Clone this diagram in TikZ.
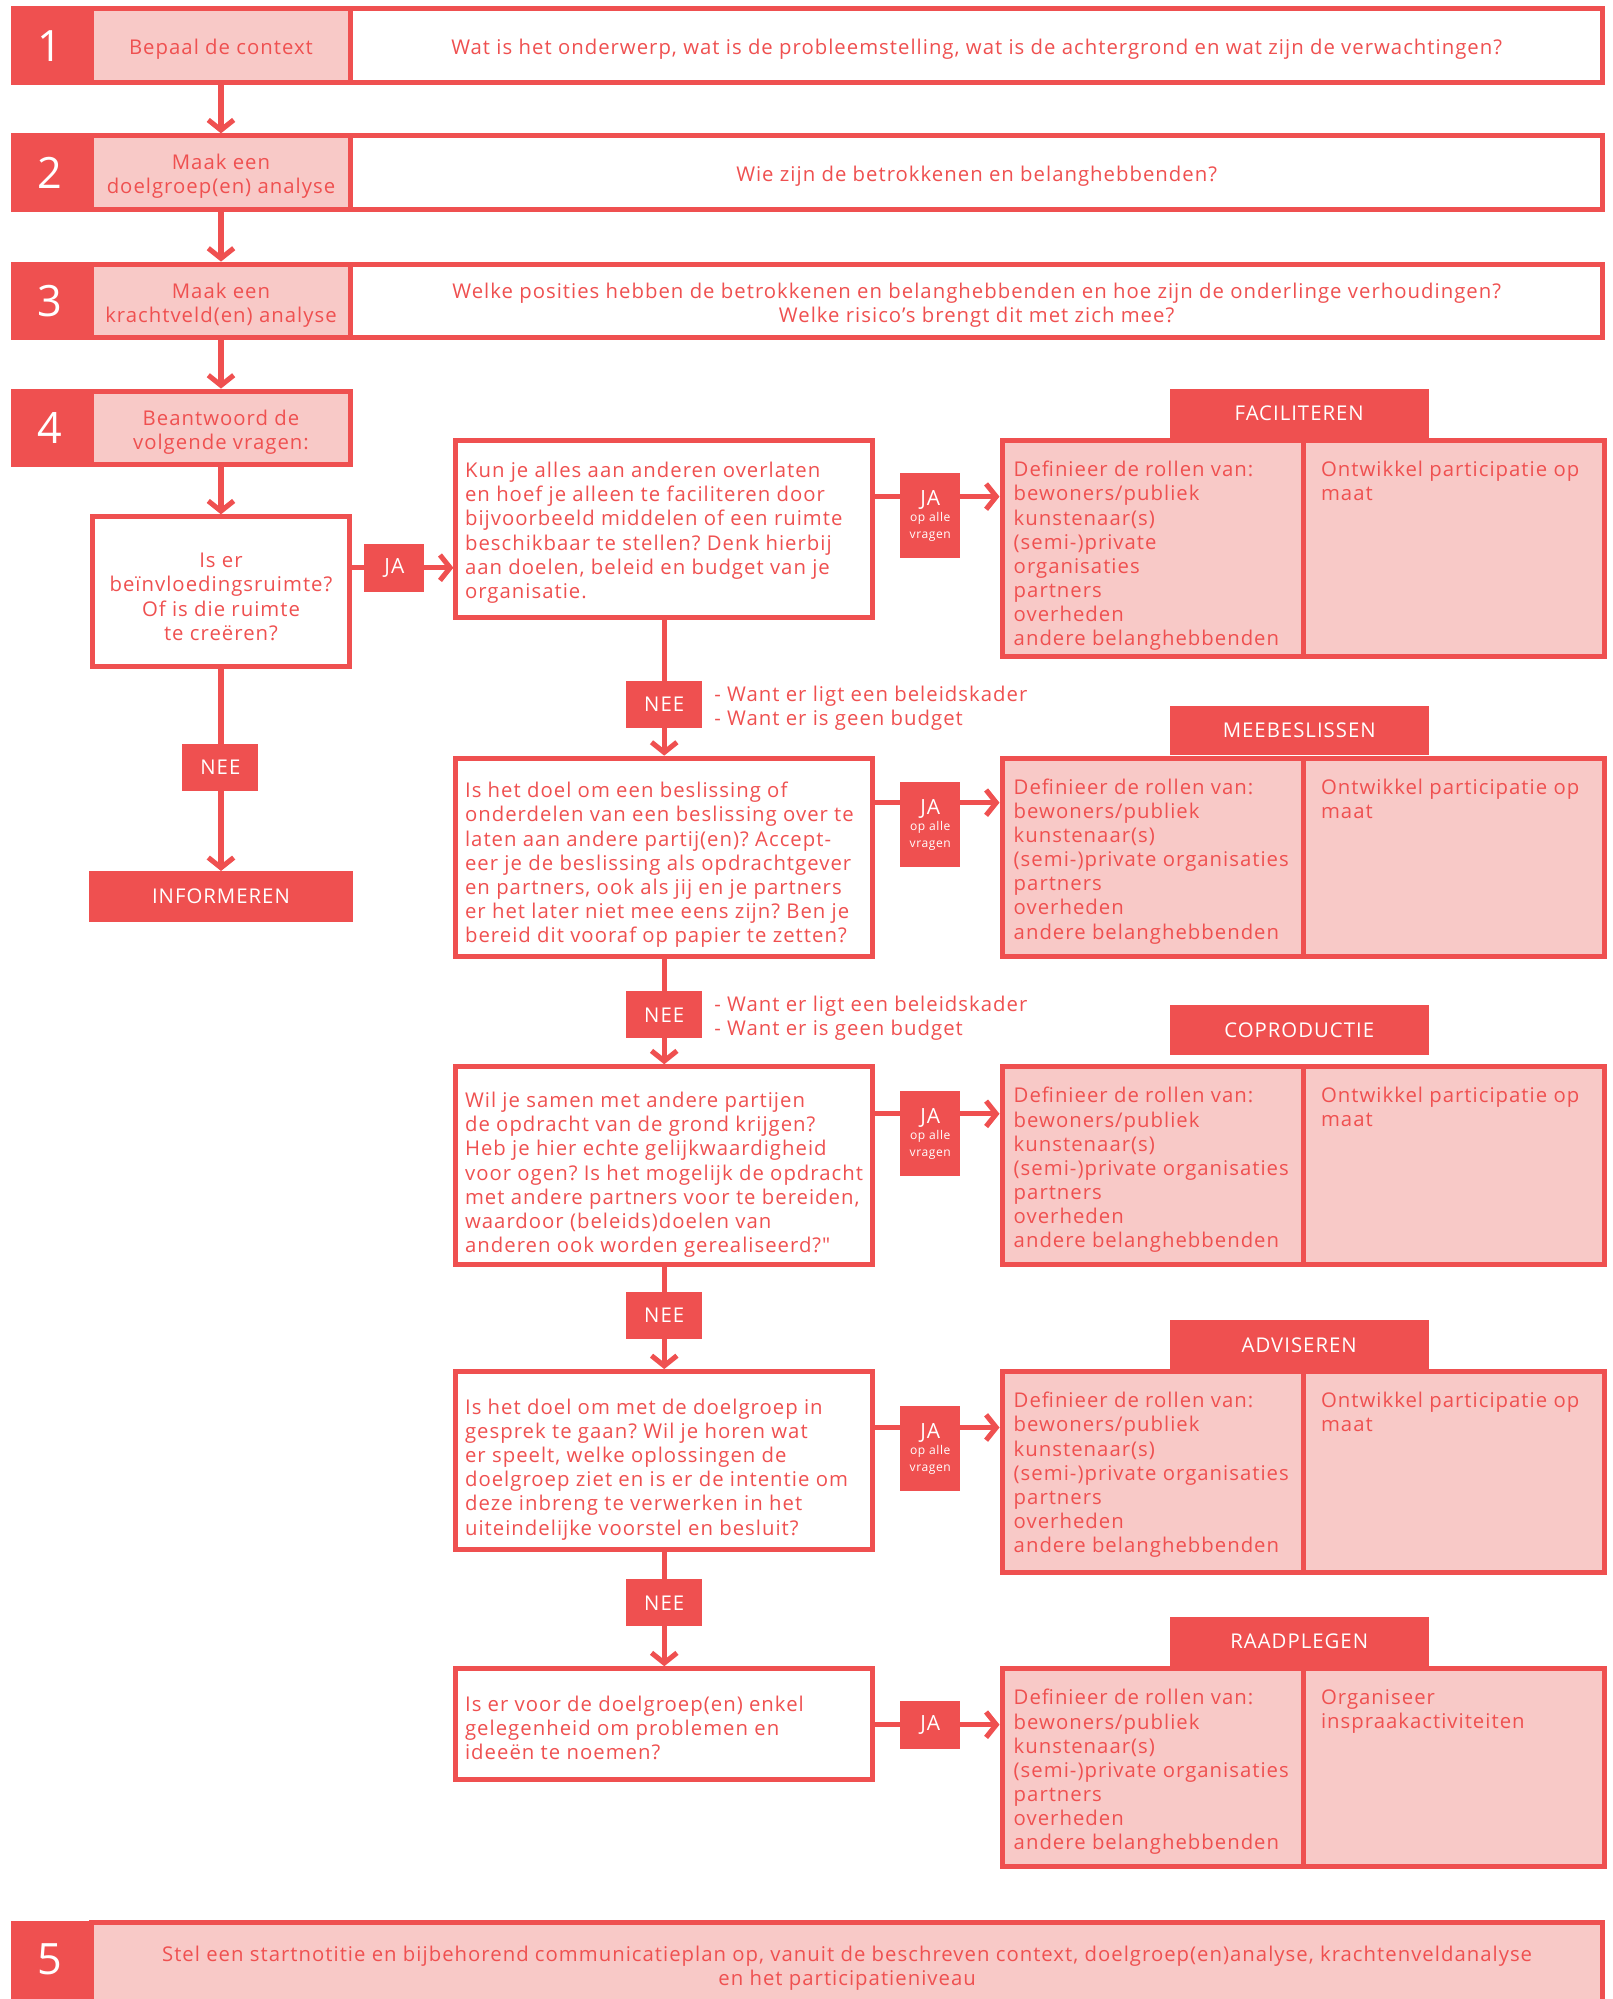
\documentclass[tikz,border=0pt]{standalone}
\usepackage{fontspec}
\setmainfont{Open Sans}[Ligatures=TeXOff,LetterSpace=5]
\usetikzlibrary{arrows.meta,positioning}
\definecolor{rood}{RGB}{239,80,80}
\definecolor{roze}{RGB}{248,201,199}
\newcommand{\txtsize}{\fontsize{16}{19}\selectfont}
\newcommand{\klein}{\fontsize{9.5}{11}\selectfont}
\frenchspacing

\begin{document}
\begin{tikzpicture}[x=1pt,y=-1pt,
  every node/.style={text=rood},
  nummer/.style={fill=rood,text=white,font=\fontsize{34}{34}\selectfont,minimum width=61pt,minimum height=62pt,inner sep=0pt},
  stapbox/.style={draw=rood,line width=4pt,fill=roze,inner sep=0pt,minimum height=58pt},
  infobox/.style={stapbox,fill=white},
  tekst/.style={font=\txtsize,align=center,inner sep=0pt,yshift=-3pt},
  vraag/.style={draw=rood,line width=4pt,fill=white,inner sep=0pt,minimum width=328pt},
  vraagtekst/.style={font=\txtsize,align=left,inner sep=0pt,anchor=west,xshift=9pt},
  cel/.style={draw=rood,line width=4pt,fill=roze,minimum width=237pt,inner sep=0pt},
  celtekst/.style={font=\txtsize,align=left,inner sep=0pt,anchor=north west,yshift=-18pt},
  kop/.style={fill=rood,text=white,font=\fontsize{16}{16}\selectfont,minimum width=204pt,minimum height=39pt,inner sep=0pt},
  ja/.style={fill=rood,text=white,font=\fontsize{16.5}{17}\selectfont,align=center,minimum width=47pt,minimum height=67pt,inner sep=0pt},
  nee/.style={fill=rood,text=white,font=\fontsize{16}{16}\selectfont,minimum width=60pt,minimum height=37pt,inner sep=0pt},
  notitie/.style={font=\txtsize,align=left,inner sep=0pt,anchor=west},
  pijl/.style={draw=rood,line width=4pt,-{Straight Barb[length=8pt,width=20pt]}}]
  \useasboundingbox (0,0) rectangle (1270,1574);

  % Stap 1 t/m 4
  \node[nummer] (n1) at (39.5,36) {1};
  \node[stapbox,minimum width=204pt] (s1) at (174,36) {};
  \node[infobox,minimum width=986pt] (i1) at (769,36) {};
  \node[tekst] (s1t) at (s1) {Bepaal de context};
  \node[tekst] (i1t) at (i1) {Wat is het onderwerp, wat is de probleemstelling, wat is de achtergrond en wat zijn de verwachtingen?};

  \node[nummer] (n2) at (39.5,136) {2};
  \node[stapbox,minimum width=204pt] (s2) at (174,136) {};
  \node[infobox,minimum width=986pt] (i2) at (769,136) {};
  \node[tekst] (s2t) at (s2) {Maak een\\doelgroep(en) analyse};
  \node[tekst] (i2t) at (i2) {Wie zijn de betrokkenen en belanghebbenden?};

  \node[nummer] (n3) at (39.5,237) {3};
  \node[stapbox,minimum width=204pt] (s3) at (174,237) {};
  \node[infobox,minimum width=986pt] (i3) at (769,237) {};
  \node[tekst] (s3t) at (s3) {Maak een\\krachtveld(en) analyse};
  \node[tekst] (i3t) at (i3) {Welke posities hebben de betrokkenen en belanghebbenden en hoe zijn de onderlinge verhoudingen?\\Welke risico’s brengt dit met zich mee?};

  \node[nummer] (n4) at (39.5,337) {4};
  \node[stapbox,minimum width=204pt] (s4) at (174,337) {};
  \node[tekst] (s4t) at (s4) {Beantwoord de\\volgende vragen:};

  \draw[pijl] (s1.south) -- (s2.north);
  \draw[pijl] (s2.south) -- (s3.north);
  \draw[pijl] (s3.south) -- (s4.north);

  % Vragen
  \node[vraag,minimum width=202pt,minimum height=118pt] (q0) at (174,466) {};
  \node[tekst,yshift=-1pt] (q0t) at (q0) {Is er\\beïnvloedingsruimte?\\Of is die ruimte\\te creëren?};
  \node[nee,minimum height=40pt,minimum width=208pt] (info) at (174,706) {INFORMEREN};

  \node[vraag,minimum height=139pt] (q1) at (523,416.5) {};
  \node[vraag,minimum height=156pt] (q2) at (523,675) {};
  \node[vraag,minimum height=156pt] (q3) at (523,918) {};
  \node[vraag,minimum height=140pt] (q4) at (523,1150) {};
  \node[vraag,minimum height=87pt] (q5) at (523,1357.5) {};

  \node[vraagtekst,yshift=-3pt] (q1t) at (q1.west) {Kun je alles aan anderen overlaten\\en hoef je alleen te faciliteren door\\bijvoorbeeld middelen of een ruimte\\beschikbaar te stellen? Denk hierbij\\aan doelen, beleid en budget van je\\organisatie.};
  \node[vraagtekst,yshift=-6pt] (q2t) at (q2.west) {Is het doel om een beslissing of\\onderdelen van een beslissing over te\\laten aan andere partij(en)? Accept-\\eer je de beslissing als opdrachtgever\\en partners, ook als jij en je partners\\er het later niet mee eens zijn? Ben je\\bereid dit vooraf op papier te zetten?};
  \node[vraagtekst,yshift=-7pt] (q3t) at (q3.west) {Wil je samen met andere partijen\\de opdracht van de grond krijgen?\\Heb je hier echte gelijkwaardigheid\\voor ogen? Is het mogelijk de opdracht\\met andere partners voor te bereiden,\\waardoor (beleids)doelen van\\anderen ook worden gerealiseerd?"};
  \node[vraagtekst,yshift=-7pt] (q4t) at (q4.west) {Is het doel om met de doelgroep in\\gesprek te gaan? Wil je horen wat\\er speelt, welke oplossingen de\\doelgroep ziet en is er de intentie om\\deze inbreng te verwerken in het\\uiteindelijke voorstel en besluit?};
  \node[vraagtekst,yshift=-3pt] (q5t) at (q5.west) {Is er voor de doelgroep(en) enkel\\gelegenheid om problemen en\\ideeën te noemen?};

  % Uitkomsten
  \node[cel,minimum height=170pt] (r1l) at (907.5,432) {};
  \node[cel,minimum height=170pt] (r1r) at (1144.5,432) {};
  \node[cel,minimum height=156pt] (r2l) at (907.5,675) {};
  \node[cel,minimum height=156pt] (r2r) at (1144.5,675) {};
  \node[cel,minimum height=156pt] (r3l) at (907.5,918) {};
  \node[cel,minimum height=156pt] (r3r) at (1144.5,918) {};
  \node[cel,minimum height=158pt] (r4l) at (907.5,1159) {};
  \node[cel,minimum height=158pt] (r4r) at (1144.5,1159) {};
  \node[cel,minimum height=156pt] (r5l) at (907.5,1392) {};
  \node[cel,minimum height=156pt] (r5r) at (1144.5,1392) {};

  \node[celtekst,xshift=11pt] (t1l) at (r1l.north west) {Definieer de rollen van:\\bewoners/publiek\\kunstenaar(s)\\(semi-)private\\organisaties\\partners\\overheden\\andere belanghebbenden};
  \node[celtekst,xshift=16pt] (t1r) at (r1r.north west) {Ontwikkel participatie op\\maat};
  \node[celtekst,xshift=11pt] (t2l) at (r2l.north west) {Definieer de rollen van:\\bewoners/publiek\\kunstenaar(s)\\(semi-)private organisaties\\partners\\overheden\\andere belanghebbenden};
  \node[celtekst,xshift=16pt] (t2r) at (r2r.north west) {Ontwikkel participatie op\\maat};
  \node[celtekst,xshift=11pt] (t3l) at (r3l.north west) {Definieer de rollen van:\\bewoners/publiek\\kunstenaar(s)\\(semi-)private organisaties\\partners\\overheden\\andere belanghebbenden};
  \node[celtekst,xshift=16pt] (t3r) at (r3r.north west) {Ontwikkel participatie op\\maat};
  \node[celtekst,xshift=11pt] (t4l) at (r4l.north west) {Definieer de rollen van:\\bewoners/publiek\\kunstenaar(s)\\(semi-)private organisaties\\partners\\overheden\\andere belanghebbenden};
  \node[celtekst,xshift=16pt] (t4r) at (r4r.north west) {Ontwikkel participatie op\\maat};
  \node[celtekst,xshift=11pt] (t5l) at (r5l.north west) {Definieer de rollen van:\\bewoners/publiek\\kunstenaar(s)\\(semi-)private organisaties\\partners\\overheden\\andere belanghebbenden};
  \node[celtekst,xshift=16pt] (t5r) at (r5r.north west) {Organiseer\\inspraakactiviteiten};

  \node[kop] (h1) at (1023,325.5) {FACILITEREN};
  \node[kop] (h2) at (1023,575) {MEEBESLISSEN};
  \node[kop] (h3) at (1023,811) {COPRODUCTIE};
  \node[kop] (h4) at (1023,1059) {ADVISEREN};
  \node[kop] (h5) at (1023,1292.5) {RAADPLEGEN};

  % Verbindingen
  \coordinate (y0) at (0,447);
  \coordinate (y1) at (0,391);
  \coordinate (y2) at (0,632);
  \coordinate (y3) at (0,877);
  \coordinate (y4) at (0,1124);
  \coordinate (y5) at (0,1358);
  \draw[pijl] (q0.east |- y0) -- (q1.west |- y0);
  \draw[pijl] (q1.east |- y1) -- (r1l.west |- y1);
  \draw[pijl] (q2.east |- y2) -- (r2l.west |- y2);
  \draw[pijl] (q3.east |- y3) -- (r3l.west |- y3);
  \draw[pijl] (q4.east |- y4) -- (r4l.west |- y4);
  \draw[pijl] (q5.east |- y5) -- (r5l.west |- y5);
  \draw[pijl] (s4.south) -- (q0.north);
  \draw[pijl] (q0.south) -- (info.north);
  \draw[pijl] (q1.south) -- (q2.north);
  \draw[pijl] (q2.south) -- (q3.north);
  \draw[pijl] (q3.south) -- (q4.north);
  \draw[pijl] (q4.south) -- (q5.north);

  \node[ja,minimum height=38pt] (ja0) at (310.5,447) {JA};
  \node[ja] (ja1) at (732.5,406) {JA\\[-4pt]\klein op alle\\[-4pt]\klein vragen};
  \node[ja] (ja2) at (732.5,649.5) {JA\\[-4pt]\klein op alle\\[-4pt]\klein vragen};
  \node[ja] (ja3) at (732.5,892.5) {JA\\[-4pt]\klein op alle\\[-4pt]\klein vragen};
  \node[ja] (ja4) at (732.5,1140.5) {JA\\[-4pt]\klein op alle\\[-4pt]\klein vragen};
  \node[ja,minimum height=38pt] (ja5) at (732.5,1358) {JA};

  \node[nee] (nee0) at (173.5,604.5) {NEE};
  \node[nee] (nee1) at (523,554.5) {NEE};
  \node[nee] (nee2) at (523,799) {NEE};
  \node[nee] (nee3) at (523,1035.5) {NEE};
  \node[nee] (nee4) at (523,1262) {NEE};

  \node[notitie,right=9pt of nee1,yshift=-3pt] (w1) {- Want er ligt een beleidskader\\- Want er is geen budget};
  \node[notitie,right=9pt of nee2,yshift=-3pt] (w2) {- Want er ligt een beleidskader\\- Want er is geen budget};

  % Stap 5
  \node[nummer,minimum height=70pt,anchor=north] (n5) at (39.5,1512) {};
  \node[text=white,font=\fontsize{34}{34}\selectfont] (n5t) at (39.5,1543) {5};
  \node[stapbox,minimum width=1190pt,minimum height=62pt] (s5) at (667,1545) {};
  \node[tekst,yshift=-2pt] (s5t) at (s5) {Stel een startnotitie en bijbehorend communicatieplan op, vanuit de beschreven context, doelgroep(en)analyse, krachtenveldanalyse\\en het participatieniveau};
\end{tikzpicture}
\end{document}
